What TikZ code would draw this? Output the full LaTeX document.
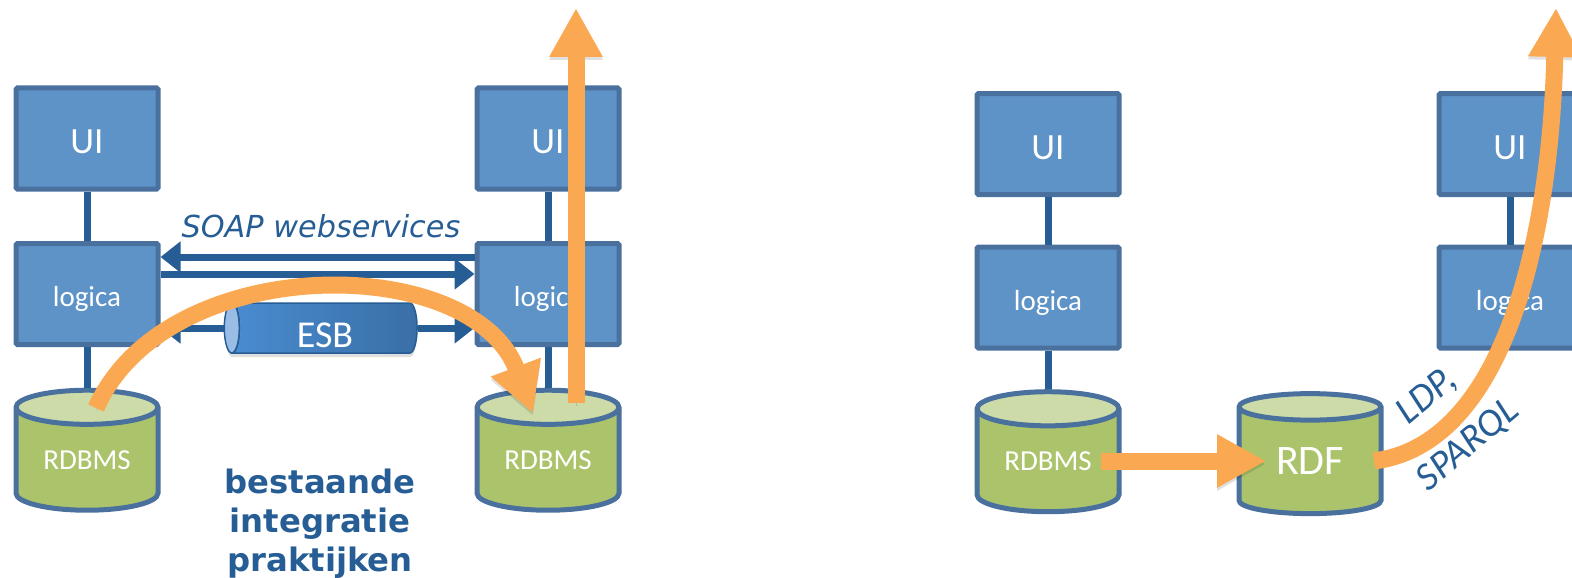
\documentclass[tikz,border=0pt]{standalone}
\usepackage{fontspec}
\setmainfont{Carlito}
\newfontfamily\verdanafont{DejaVu Sans}
\usetikzlibrary{arrows.meta,shapes.geometric,shadows}
\definecolor{boxblue}{HTML}{5E93C8}
\definecolor{edgeblue}{HTML}{4A709E}
\definecolor{linkblue}{HTML}{265D94}
\definecolor{dbgreen}{HTML}{ABC46B}
\definecolor{dbtop}{HTML}{CCDBA8}
\definecolor{flow}{HTML}{FBA852}
\definecolor{esbleft}{HTML}{4A8DD2}
\definecolor{esbright}{HTML}{3A6FA6}
\definecolor{esbend}{HTML}{9ABDE6}
\tikzset{
	block/.style = {draw = edgeblue, fill = boxblue, line width = 5pt, rounded corners = 1.5pt, minimum width = 142pt, minimum height = 101pt, inner sep = 0pt, text = white, text depth = 0pt},
	uiblock/.style = {block, text height = 30pt, font = \fontsize{37}{44}\selectfont},
	logicablock/.style = {block, text height = 25pt},
	store/.style = {cylinder, draw = edgeblue, line width = 5pt, cylinder uses custom fill, cylinder body fill = dbgreen, cylinder end fill = dbtop, shape border rotate = 90, shape aspect = 0.39, minimum width = 142pt, minimum height = 120pt, inner sep = 0pt, text = white},
	link/.style = {draw = linkblue, line width = 7pt},
	api/.style = {link, -{Triangle[length = 20pt, width = 30pt]}},
	flowline/.style = {preaction = {draw = black, opacity = 0.12, transform canvas = {yshift = -3pt}}, draw = flow, line width = 17pt, -{Triangle[length = 49pt, width = 50pt]}}
}
\begin{document}
\begin{tikzpicture}[x = 1pt, y = -1pt, font = \fontsize{29}{35}\selectfont]
		\useasboundingbox (0,0) rectangle (1572,578);
		\clip (0,0) rectangle (1572,578);
		% bestaande situatie
		\node[uiblock] (ui1) at (87,138.5) {UI};
		\node[logicablock] (logica1) at (87,294) {logica};
		\node[store] (rdbms1) at (87,460) {RDBMS};
		\node[uiblock] (ui2) at (548,138.5) {UI};
		\node[logicablock] (logica2) at (548,294) {logica};
		\node[store] (rdbms2) at (548,460) {RDBMS};
		\draw[link] (ui1) -- (logica1);
		\draw[link] (logica1) -- (rdbms1.north);
		\draw[link] (ui2) -- (logica2);
		\draw[link] (logica2) -- (rdbms2.north);
		\draw[api] ([yshift = 37pt]logica2.west) -- ([yshift = 37pt]logica1.east);
		\draw[api] ([yshift = 20pt]logica1.east) -- ([yshift = 20pt]logica2.west);
		\node[text = linkblue, font = \verdanafont\itshape\fontsize{30.3}{37}\selectfont] (soap) at (321,226) {SOAP webservices};
		\node[cylinder, draw = linkblue, line width = 1.5pt, shape border rotate = 180, shape aspect = 0.375, left color = esbleft, right color = esbright, drop shadow = {opacity = 0.25, shadow xshift = 0pt, shadow yshift = -4pt}, minimum width = 50pt, minimum height = 192pt, inner sep = 0pt, text = white, text height = 38pt, text depth = 0pt, font = \fontsize{38}{45}\selectfont] (esb) at (325,328) {ESB};
		\draw[draw = linkblue, fill = esbend, line width = 1.5pt] ([xshift = 7.5pt]esb.center -| esb.west) ellipse (7.5pt and 25pt);
		\draw[api] (esb.west |- esb.center) -- (logica1.east |- esb.center);
		\draw[api] (esb.east |- esb.center) -- (logica2.west |- esb.center);
		\node[text = linkblue, align = center, font = \verdanafont\bfseries\fontsize{32.3}{39}\selectfont] (bestaand) at (320,523.5) {bestaande\\integratie\\praktijken};
		\coordinate (start1) at (96,408);
		\coordinate (end1) at (533,413);
		\coordinate (start2) at (576,403);
		\coordinate (end2) at (576,8);
		\draw[flowline] (start1) .. controls (166,251) and (472,251) .. (end1);
		\draw[flowline] (start2) -- (end2);
		% met linked data
		\node[uiblock] (ui3) at (1048,144) {UI};
		\node[logicablock] (logica3) at (1048,297.5) {logica};
		\node[store] (rdbms3) at (1048,461.5) {RDBMS};
		\node[store, font = \fontsize{42}{50}\selectfont] (rdf) at (1310,461.5) {RDF};
		\node[uiblock] (ui4) at (1510,144) {UI};
		\node[logicablock] (logica4) at (1510,297.5) {logica};
		\draw[link] (ui3) -- (logica3);
		\draw[link] (logica3) -- (rdbms3.north);
		\draw[link] (ui4) -- (logica4);
		\coordinate (start3) at (1101,461);
		\coordinate (end3) at (1266,461);
		\coordinate (start4) at (1374,461);
		\coordinate (end4) at (1556,8);
		\draw[flowline] (start3) -- (end3);
		\draw[flowline] (start4) .. controls (1500,445) and (1550,250) .. (end4);
		\node[text = linkblue, rotate = 40, align = center, font = \itshape\fontsize{39}{64}\selectfont] (ldp) at (1448,421) {LDP,\\SPARQL};
		\end{tikzpicture}
\end{document}
